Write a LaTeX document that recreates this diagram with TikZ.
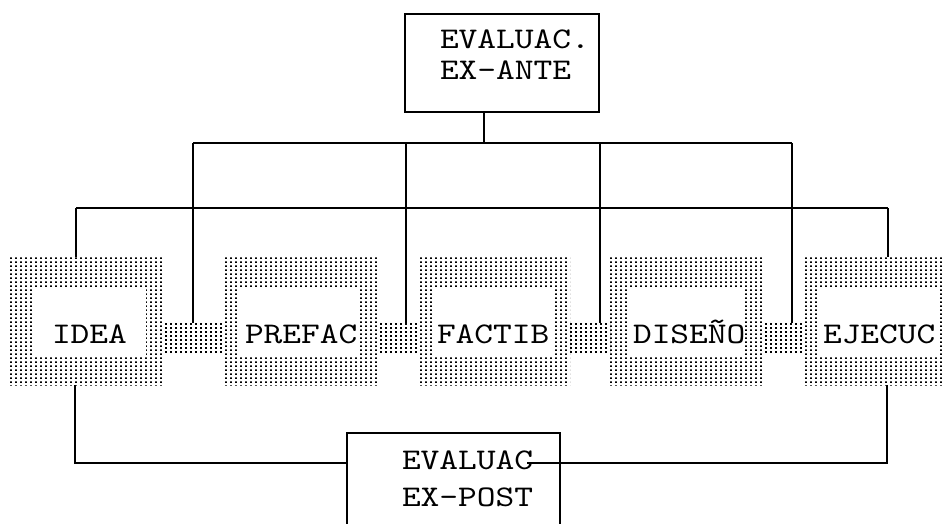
\documentclass[tikz,border=0pt]{standalone}
\usepackage{fontspec}
\newfontfamily\tw{lmmono10-regular}[Extension=.otf, FakeStretch=1.19]
\usetikzlibrary{patterns}
\pgfdeclarepatternformonly{halftone}{\pgfqpoint{0pt}{0pt}}{\pgfqpoint{5pt}{4.3pt}}{\pgfqpoint{5pt}{4.3pt}}{\pgfpathrectangle{\pgfqpoint{0pt}{0pt}}{\pgfqpoint{2.1pt}{2.0pt}}\pgfusepath{fill}}
\begin{document}
\begin{tikzpicture}[x=1pt,y=-1pt, line width=1.6pt,
  lbl/.style={inner sep=0pt, outer sep=0pt, anchor=base west, font=\tw\fontsize{30}{31}\selectfont},
  frame/.style={pattern=halftone, draw=none, inner sep=0pt, outer sep=0pt, anchor=north west, minimum height=128pt},
  hole/.style={fill=white, draw=none, inner sep=0pt, outer sep=0pt, anchor=north west, minimum height=66pt},
  bar/.style={pattern=halftone},
  boxnode/.style={draw, inner sep=0pt, outer sep=0pt, anchor=north west}]
\useasboundingbox (0,0) rectangle (945,524);
\clip (0,0) rectangle (945,524);
\fill[white] (0,0) rectangle (945,524);
% stage frames
\node[frame, minimum width=152pt] (idea)   at (10,257)  {};
\node[frame, minimum width=154pt] (prefac) at (223,257) {};
\node[frame, minimum width=153pt] (factib) at (417,257) {};
\node[frame, minimum width=152pt] (diseno) at (610,257) {};
\node[frame, minimum width=160pt] (ejecuc) at (802,257) {};
% connecting bars
\fill[bar] (idea.east |- 0,323)   rectangle (prefac.west |- 0,353);
\fill[bar] (prefac.east |- 0,323) rectangle (factib.west |- 0,353);
\fill[bar] (factib.east |- 0,323) rectangle (diseno.west |- 0,353);
\fill[bar] (diseno.east |- 0,323) rectangle (ejecuc.west |- 0,353);
% white holes
\node[hole, minimum width=113pt] (ideain)   at (33,289)  {};
\node[hole, minimum width=120pt] (prefacin) at (240,289) {};
\node[hole, minimum width=119pt] (factibin) at (433,289) {};
\node[hole, minimum width=118pt] (disenoin) at (627,289) {};
\node[hole, minimum width=122pt] (ejecucin) at (818,289) {};
% stage labels
\node[lbl] (ideat)   at (52,343)  {IDEA};
\node[lbl] (prefact) at (245,343) {PREFAC};
\node[lbl] (factibt) at (437,343) {FACTIB};
\node[lbl] (disenot) at (633,343) {DISEÑO};
\node[lbl] (ejecuct) at (823,343) {EJECUC};
% evaluation boxes
\node[boxnode, minimum width=194pt, minimum height=98pt] (ante) at (405,14) {};
\node[lbl] (anteA) at (440,49) {EVALUAC.};
\node[lbl] (anteB) at (440,80) {EX-ANTE};
\node[boxnode, minimum width=213pt, minimum height=130pt] (post) at (347,433) {};
\node[lbl] (postA) at (402,469) {EVALUAC};
\node[lbl] (postB) at (402,506) {EX-POST};
% junction coordinates
\coordinate (j0) at (484,143);
\coordinate (t1) at (193,143);
\coordinate (t2) at (406,143);
\coordinate (t3) at (600,143);
\coordinate (t4) at (792,143);
\coordinate (m0) at (76,208);
\coordinate (m5) at (888,208);
\coordinate (p0) at (75,463);
\coordinate (p1) at (527,463);
\coordinate (p2) at (887,463);
% ex-ante connectors
\draw (ante.south -| j0) -- (j0);
\draw (t1) -- (t4);
\draw (t1) -- (t1 |- 0,323);
\draw (t2) -- (t2 |- 0,323);
\draw (t3) -- (t3 |- 0,323);
\draw (t4) -- (t4 |- 0,323);
\draw (m0) -- (m5);
\draw (m0) -- (m0 |- idea.north);
\draw (m5) -- (m5 |- ejecuc.north);
% ex-post connectors
\draw (idea.south -| p0) -- (p0) -- (p0 -| post.west);
\draw (p1) -- (p2) -- (p2 |- ejecuc.south);
\end{tikzpicture}
\end{document}
